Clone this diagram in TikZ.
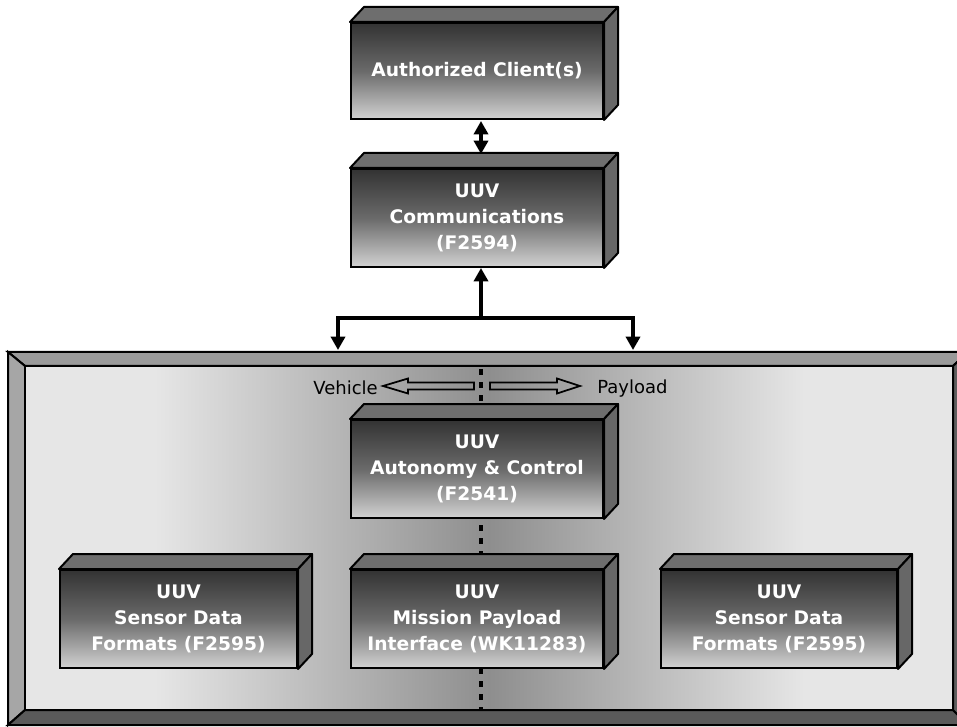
\documentclass[tikz,border=0pt]{standalone}
\usepackage{fontspec}
\setmainfont{DejaVu Sans}
\usetikzlibrary{calc,arrows.meta}
\definecolor{bgl}{HTML}{E6E6E6}
\definecolor{bgd}{HTML}{8E8E8E}
\definecolor{frtop}{HTML}{333333}
\definecolor{frmid}{HTML}{6A6A6A}
\definecolor{frbot}{HTML}{D2D2D2}
\definecolor{facetop}{HTML}{6E6E6E}
\definecolor{faceside}{HTML}{676767}
\definecolor{bevtop}{HTML}{9A9A9A}
\definecolor{bevleft}{HTML}{A6A6A6}
\definecolor{bevbot}{HTML}{5A5A5A}
\definecolor{bevright}{HTML}{5E5E5E}
\pgfdeclarehorizontalshading{bgshade}{100bp}{color(0bp)=(bgl); color(32bp)=(bgl); color(50bp)=(bgd); color(67bp)=(bgl); color(100bp)=(bgl)}
\newcommand\boxfnt{\fontsize{14pt}{19.5pt}\selectfont\bfseries}
\newcommand\lblfnt{\fontsize{13.5pt}{16pt}\selectfont}
\newcommand\boxfaces[1]{%
  \draw[topface] (#1.north west) -- ++(14,-15) -- ($(#1.north east)+(14,-15)$) -- (#1.north east) -- cycle;
  \draw[sideface] (#1.north east) -- ++(14,-15) -- ($(#1.south east)+(14,-15)$) -- (#1.south east) -- cycle;}
\tikzset{
  front/.style={draw=black, line width=1.5pt, top color=frtop, bottom color=frbot, middle color=frmid,
    text=white, font=\boxfnt, align=center, inner sep=0pt,
    minimum width=252*0.75pt, minimum height=98*0.75pt},
  topface/.style={draw=black, line width=1.5pt, fill=facetop, line join=round},
  sideface/.style={draw=black, line width=1.5pt, fill=faceside, line join=round},
  bevel/.style={draw=black, line width=1.5pt, line join=miter},
  conn/.style={line width=2.6pt, line join=miter},
  tip/.style={},
  hollow/.style={draw=black, line width=1.3pt, line join=miter},
  dotl/.style={line width=3pt, dash pattern=on 4.5pt off 5.25pt, dash phase=8.25pt},
  lbl/.style={font=\lblfnt, text=black, inner sep=0pt}
}
\begin{document}
\begin{tikzpicture}[x=0.75pt,y=-0.75pt]
\useasboundingbox (0,0) rectangle (957,727);
\clip (0,0) rectangle (957,727);
% frame
\draw[bevel, fill=bevtop] (8,352) -- (968,352) -- (953,366) -- (25,366) -- cycle;
\draw[bevel, fill=bevleft] (8,352) -- (25,366) -- (25,710) -- (8,725) -- cycle;
\draw[bevel, fill=bevbot] (8,725) -- (25,710) -- (953,710) -- (968,725) -- cycle;
\draw[bevel, fill=bevright] (968,352) -- (953,366) -- (953,710) -- (968,725) -- cycle;
\draw[bevel, shading=bgshade] (25,366) rectangle (953,710);
% dotted divider
\coordinate (mid) at (481,0);
\coordinate (dtop) at (481,367);
\coordinate (dbot) at (481,709);
\draw[dotl] (dtop) -- (dbot);
% hollow arrows and labels
\coordinate (vtail) at (474,386);
\coordinate (ptail) at (490,386);
\draw[hollow] ($(vtail)+(0,-3.5)$) -- ++(-66,0) -- ++(0,-4) -- ++(-25,7.5) -- ++(25,7.5) -- ++(0,-4) -- ++(66,0) -- cycle;
\draw[hollow] ($(ptail)+(0,-3.5)$) -- ++(67,0) -- ++(0,-4) -- ++(23,7.5) -- ++(-23,7.5) -- ++(0,-4) -- ++(-67,0) -- cycle;
\node[lbl, anchor=base east] (veh) at (378,394) {Vehicle};
\node[lbl, anchor=base west] (pay) at (597,393) {Payload};
% boxes
\node[front, minimum height=96*0.75pt] (auth) at (477,71) {Authorized Client(s)};
\boxfaces{auth}
\node[front] (comm) at (477,218) {UUV\\Communications\\(F2594)};
\boxfaces{comm}
\node[front] (ac) at (477,469) {UUV\\Autonomy \& Control\\(F2541)};
\boxfaces{ac}
\node[front, minimum width=237*0.75pt] (sdl) at (178.5,619) {UUV\\Sensor Data\\Formats (F2595)};
\boxfaces{sdl}
\node[front] (mp) at (477,619) {UUV\\Mission Payload\\Interface (WK11283)};
\boxfaces{mp}
\node[front, minimum width=236*0.75pt] (sdr) at (779,619) {UUV\\Sensor Data\\Formats (F2595)};
\boxfaces{sdr}
% connectors
\draw[conn, {Triangle[length=10pt,width=10.5pt]}-{Triangle[length=10pt,width=10.5pt]}]
  ($(auth.south -| mid)+(0,1)$) -- ($(comm.north -| mid)+(0,-14)$);
\coordinate (jn) at (481,318);
\coordinate (ltop) at (338,350);
\coordinate (rtop) at (633,350);
\draw[conn, -{Triangle[length=10pt,width=10.5pt]}] (jn) -- (comm.south -| mid);
\draw[conn, {Triangle[length=10pt,width=10.5pt]}-{Triangle[length=10pt,width=10.5pt]}]
  (ltop) -- (ltop |- jn) -- (rtop |- jn) -- (rtop);
\end{tikzpicture}
\end{document}
